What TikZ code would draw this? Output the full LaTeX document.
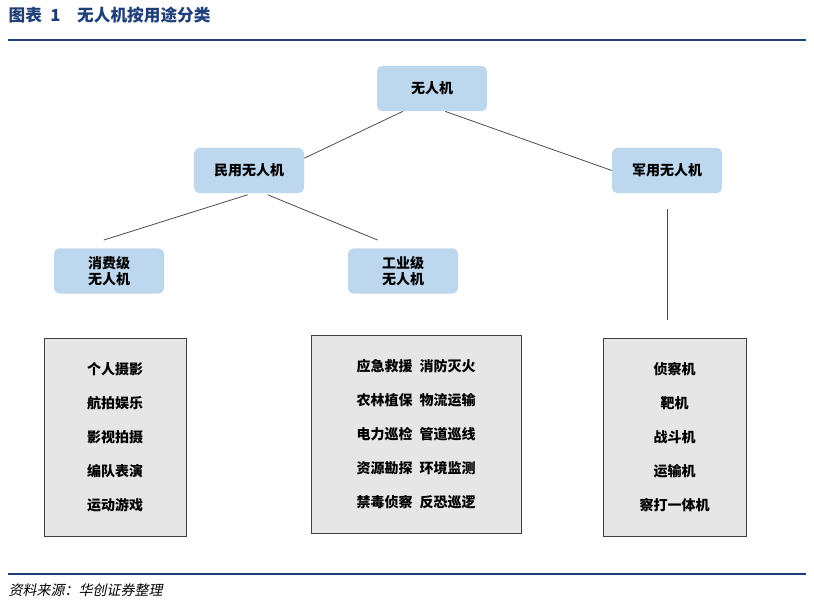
\documentclass[tikz,border=0pt]{standalone}
\usepackage{fontspec}
\setmainfont{Noto Sans CJK SC}
\newfontfamily\slantcjk[FakeSlant=0.2]{Noto Sans CJK SC}
\usetikzlibrary{positioning}
\definecolor{titleblue}{HTML}{1F3F7A}
\definecolor{boxblue}{HTML}{BDD7EE}
\definecolor{boxgray}{HTML}{E7E6E6}

\begin{document}
\begin{tikzpicture}[x=0.75pt, y=-0.75pt,
bluenode/.style={rectangle, rounded corners=4pt, fill=boxblue, minimum width=82.5pt, minimum height=34pt, align=center, font=\fontsize{10.5}{12.5}\selectfont\bfseries},
listnode/.style={rectangle, draw=black!75, fill=boxgray, align=center, font=\fontsize{10.5}{12.5}\selectfont\bfseries},
link/.style={draw=black!70, line width=0.6pt},
]
\useasboundingbox (0,0) rectangle (814,605);
%Title
\node[anchor=west, text=titleblue, font=\fontsize{12.5}{14}\selectfont\bfseries] (title) at (4,15) {图表\enspace 1\quad 无人机按用途分类};
\draw[titleblue, line width=1.5pt] (8,40) -- (806,40);
%Nodes
\node[bluenode] (root)     at (432,88.5)  {无人机};
\node[bluenode] (civil)    at (249,170.5) {民用无人机};
\node[bluenode] (military) at (667,170.5) {军用无人机};
\node[bluenode] (consumer) at (109,271)   {消费级\\无人机};
\node[bluenode] (industry) at (403,271)   {工业级\\无人机};
\node[listnode, minimum width=106.5pt, minimum height=148.5pt] (conslist) at (115,437)
  {个人摄影\\[13pt]航拍娱乐\\[13pt]影视拍摄\\[13pt]编队表演\\[13pt]运动游戏};
\node[listnode, minimum width=157.5pt, minimum height=148.5pt] (indlist) at (416,434)
  {应急救援\enspace 消防灭火\\[13pt]农林植保\enspace 物流运输\\[13pt]电力巡检\enspace 管道巡线\\[13pt]资源勘探\enspace 环境监测\\[13pt]禁毒侦察\enspace 反恐巡逻};
\node[listnode, minimum width=107pt, minimum height=148.5pt] (millist) at (674.5,437)
  {侦察机\\[13pt]靶机\\[13pt]战斗机\\[13pt]运输机\\[13pt]察打一体机};
\coordinate (milend) at (667,320);
%Lines
\draw[link] ([xshift=-22pt]root.south) -- ([yshift=-8pt]civil.north east);
\draw[link] ([xshift=10pt]root.south) -- (military.west);
\draw[link] ([xshift=-1pt,yshift=-1pt]civil.south) -- ([xshift=-4pt,yshift=6pt]consumer.north);
\draw[link] ([xshift=14pt,yshift=-1pt]civil.south) -- ([xshift=-19pt,yshift=6pt]industry.north);
\draw[link] ([yshift=-12pt]military.south) -- (milend);
%Footer
\draw[titleblue, line width=1.2pt] (8,574) -- (806,574);
\node[anchor=west, font=\fontsize{10.5}{12}\selectfont\slantcjk] (source) at (4,590) {资料来源：华创证券整理};
\end{tikzpicture}
\end{document}
